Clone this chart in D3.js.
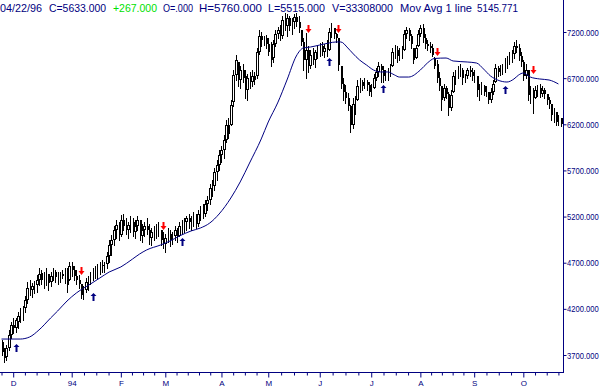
<!DOCTYPE html>
<html><head><meta charset="utf-8">
<script src="https://cdn.jsdelivr.net/npm/d3@7"></script>
<style>html,body{margin:0;padding:0;background:#fff;overflow:hidden}</style>
</head><body><svg id="c" width="600" height="388"></svg>
<script>
// ---- data (daily candles, index 0..239) ----
const openV=[3841,3733,3678,3776,3917,4025,3993,4058,4123,4155,4209,4296,4448,4404,4437,4458,4513,4589,4513,4556,
4578,4491,4556,4599,4545,4556,4578,4556,4599,4513,4664,4621,4556,4513,4469,4361,4404,4491,4534,4567,
4599,4621,4643,4675,4664,4686,4773,4892,4946,5054,5109,5000,5163,5098,5054,5109,5141,5033,5098,5163,
4989,5054,5098,5054,4968,5033,5054,5076,5054,4946,4903,4968,5011,4946,4989,5054,4989,5098,5119,5141,
5185,5141,5163,5206,5119,5228,5271,5228,5336,5380,5510,5531,5683,5759,5867,5921,6030,6192,6192,6441,
6734,6875,6680,6788,6723,6572,6702,6658,6723,6723,6983,7157,7113,7135,7070,6983,6918,7070,7178,7222,
7157,7330,7265,7352,7265,7308,7363,7308,7222,7092,6897,7005,6832,6951,6897,6983,7005,7048,6983,7027,
7005,7200,7243,7178,7135,6832,6637,6550,6485,6398,6192,6420,6463,6615,6658,6615,6658,6626,6550,6593,
6702,6767,6832,6788,6723,6745,6767,6832,6983,7005,6940,6983,7005,7178,7222,7157,7027,6918,7048,7178,
7243,7135,7070,7048,7027,6918,6853,6702,6615,6485,6593,6528,6376,6550,6723,6745,6788,6788,6702,6723,
6788,6767,6723,6723,6572,6593,6615,6550,6550,6463,6550,6658,6810,6767,6810,6832,6875,6897,6940,6962,
7048,7027,6940,6875,6723,6788,6517,6550,6485,6572,6593,6528,6572,6528,6463,6420,6301,6333,6225,6268];
const highV=[3863,3776,3808,3971,4058,4101,4101,4166,4209,4231,4339,4491,4513,4480,4502,4567,4643,4621,4599,4643,
4578,4599,4643,4621,4599,4599,4621,4643,4643,4708,4708,4664,4621,4567,4469,4448,4534,4556,4599,4643,
4664,4686,4708,4729,4708,4816,4946,5000,5098,5163,5141,5217,5228,5185,5141,5206,5185,5163,5206,5163,
5119,5141,5185,5119,5076,5098,5119,5141,5054,5033,5011,5076,5054,5033,5098,5076,5141,5163,5185,5206,
5228,5206,5250,5228,5271,5315,5336,5380,5423,5553,5596,5726,5813,5921,5965,6084,6246,6268,6463,6788,
6951,6875,6832,6853,6788,6745,6767,6788,6767,7027,7222,7200,7157,7167,7135,7092,7113,7222,7254,7276,
7373,7406,7395,7373,7352,7395,7406,7373,7222,7135,7189,7048,7005,7027,7005,7048,7081,7092,7070,7113,
7243,7298,7243,7189,7135,6832,6702,6626,6539,6409,6485,6507,6680,6702,6680,6702,6680,6658,6637,6745,
6810,6875,6853,6832,6788,6810,6853,7027,7059,7048,7027,7048,7222,7254,7243,7178,7027,7059,7222,7276,
7287,7178,7113,7092,7070,6929,6897,6767,6615,6637,6615,6550,6572,6767,6788,6832,6853,6810,6745,6810,
6832,6810,6788,6723,6637,6658,6626,6615,6550,6593,6680,6853,6832,6842,6853,6918,6940,6983,7005,7092,
7113,7070,6983,6897,6853,6788,6615,6593,6615,6626,6637,6615,6593,6528,6496,6420,6376,6333,6301,6268];
const lowV=[3700,3624,3646,3754,3884,3938,3949,3993,4058,4079,4166,4263,4350,4328,4372,4383,4458,4469,4426,4458,
4404,4448,4513,4491,4469,4491,4534,4480,4383,4513,4556,4513,4469,4426,4318,4307,4383,4404,4469,4513,
4534,4534,4578,4599,4599,4643,4708,4784,4892,4968,4946,4989,5054,5011,4968,5033,4989,4968,5054,4946,
4924,4989,5011,4903,4892,4946,4968,4989,4892,4859,4816,4924,4881,4903,4946,4924,4989,5011,5033,5054,
5076,5054,5098,5076,5098,5163,5185,5206,5271,5336,5423,5488,5596,5705,5791,5835,6008,6051,6192,6398,
6680,6615,6593,6658,6485,6463,6593,6615,6637,6702,6962,7048,7059,7027,6951,6832,6875,7048,7135,7113,
7135,7222,7157,7222,7178,7243,7265,7200,7059,6788,6702,6767,6810,6853,6821,6918,6940,6951,6929,6940,
7005,7146,7135,7092,6788,6593,6463,6431,6355,6116,6160,6311,6463,6550,6572,6593,6572,6517,6507,6593,
6680,6723,6658,6658,6680,6680,6723,6832,6918,6875,6897,6918,7005,7135,7113,7027,6864,6918,7048,7157,
7092,7027,7005,6983,6940,6810,6658,6572,6355,6463,6485,6301,6355,6550,6637,6702,6723,6637,6658,6702,
6723,6680,6658,6507,6463,6528,6517,6507,6431,6441,6528,6658,6723,6734,6745,6767,6810,6853,6875,6918,
6983,6897,6832,6680,6702,6463,6431,6323,6485,6507,6496,6507,6485,6420,6376,6246,6225,6192,6192,6181];
const closeV=[3733,3667,3776,3917,4025,3993,4079,4123,4166,4188,4296,4426,4404,4448,4469,4513,4578,4513,4556,4599,
4480,4556,4599,4545,4567,4578,4556,4599,4458,4664,4621,4556,4513,4469,4350,4404,4491,4534,4567,4599,
4621,4643,4675,4664,4686,4773,4892,4946,5054,5109,5000,5163,5098,5054,5109,5141,5033,5098,5163,4989,
5054,5098,5054,4968,5033,5054,5076,5098,4946,4903,4968,5011,4946,4989,5054,4989,5098,5119,5141,5185,
5141,5163,5206,5119,5228,5271,5228,5336,5380,5510,5531,5683,5759,5867,5921,6030,6192,6095,6409,6734,
6897,6680,6788,6702,6572,6702,6658,6723,6680,6983,7157,7113,7135,7070,6983,6897,7070,7178,7222,7157,
7330,7265,7352,7265,7308,7363,7308,7243,7092,6897,7005,6832,6951,6897,6983,7005,7048,6983,7027,7005,
7200,7243,7178,7135,6842,6637,6550,6485,6398,6192,6420,6463,6615,6658,6615,6658,6626,6550,6593,6702,
6767,6832,6788,6723,6745,6767,6810,6983,7005,6940,6983,7005,7178,7222,7157,7070,6897,7027,7178,7243,
7135,7070,7048,7027,6951,6832,6702,6615,6463,6593,6528,6376,6517,6723,6745,6788,6810,6702,6723,6788,
6767,6723,6745,6572,6593,6615,6550,6572,6463,6550,6637,6810,6767,6810,6832,6875,6897,6940,6962,7048,
7027,6940,6875,6723,6788,6517,6550,6485,6572,6593,6528,6572,6528,6463,6420,6301,6333,6225,6268,6203];

// moving average line (bar index, value)
const maIdx=[0,8,12,16,21,24,28,32,38,42,46,51,56,59,62,68,72,76,81,85,89,93,98,102,106,111,114,118,122,126,129,132,136,140,143,145,148,150,153,156,159,162,165,168,170,174,179,182,185,190,193,199,203,206,209,212,216,219,221,223,226,230,234,238];
const maVal=[3873,3873,3895,3971,4101,4177,4285,4372,4469,4534,4599,4654,4740,4794,4838,4892,4935,4989,5044,5076,5130,5228,5401,5575,5780,6041,6225,6431,6680,6940,7027,7037,7059,7081,7092,7092,7027,6972,6897,6842,6788,6767,6767,6734,6712,6712,6788,6864,6913,6918,6886,6875,6864,6799,6723,6680,6658,6691,6734,6756,6712,6691,6680,6637];

// signal arrows (bar index, value at arrow top)
const sellIdx=[34,69,131,144,186,227];
const sellVal=[4654,5141,7276,7276,7027,6832];
const buyIdx=[6,39,77,140,163,215];
const buyVal=[3819,4372,4968,6918,6626,6615];

// axis ticks
const yTicks=[7200,6700,6200,5700,5200,4700,4200,3700];
const monthLabels=["D","94","F","M","A","M","J","J","A","S","O"];
const monthIdx=[5,30,51,70,94,114,136,158,179,202,223];

// header
const headerTexts=["04/22/96","C=5633.000","+267.000","O=.000","H=5760.000","L=5515.000","V=33308000","Mov Avg 1 line","5145.771"];

// ---- drawing ----
const NAVY="#000080";
const FONT="Arial, 'Liberation Sans', sans-serif";
const svg=d3.select("#c");
const n=closeV.length;
const x=d3.scaleLinear().domain([0,n-1]).range([1.5,1.5+(n-1)*2.34]);
const y=d3.scaleLinear().domain([3700,7200]).range([355,32]);

// axis lines
svg.append("line").attr("x1",0).attr("x2",564).attr("y1",372.5).attr("y2",372.5).attr("stroke",NAVY);
svg.append("line").attr("x1",563.5).attr("x2",563.5).attr("y1",0).attr("y2",373).attr("stroke",NAVY);

// right axis (labels horizontally condensed so they fit in the margin)
const gy=svg.append("g").attr("transform","translate(563.5,0)")
  .call(d3.axisRight(y).tickValues(yTicks).tickSize(3).tickFormat(d3.format(".3f")));
gy.select(".domain").remove();
gy.selectAll("line").attr("stroke",NAVY);
gy.selectAll("text").attr("x",0).attr("fill",NAVY).attr("font-family",FONT).attr("font-size",9.5)
  .attr("transform","translate(3.5,0) scale(0.8,1)");

// bottom axis with weekly ticks
const weekTicks=[0];
for(let k=0;k<monthIdx.length;k++){
  const a=monthIdx[k];
  if(k<monthIdx.length-1){
    const b=monthIdx[k+1], w=Math.round((b-a)/5);
    for(let j=0;j<w;j++) weekTicks.push(a+j*(b-a)/w);
  } else {
    for(let t=a;t<=n-1;t+=5) weekTicks.push(t);
  }
}
const gx=svg.append("g").attr("transform","translate(0,372.5)")
  .call(d3.axisBottom(x).tickValues(weekTicks).tickSize(3)
    .tickFormat(d=>{const k=monthIdx.indexOf(d);return k>=0?monthLabels[k]:"";}));
gx.select(".domain").remove();
gx.selectAll("line").attr("stroke",NAVY);
gx.selectAll(".tick").filter(d=>monthIdx.includes(d)).select("line").attr("y2",5);
gx.selectAll("text").attr("fill",NAVY).attr("font-family",FONT).attr("font-size",8).attr("y",8);

// candles: thin wicks, narrow bodies (filled = down, hollow = up)
const bars=d3.range(n).map(i=>({i,o:openV[i],h:highV[i],l:lowV[i],c:closeV[i]}));
const gb=svg.append("g").attr("shape-rendering","crispEdges");
const bg=gb.selectAll("g").data(bars).join("g");
bg.append("line")
  .attr("x1",d=>Math.round(x(d.i))+0.5).attr("x2",d=>Math.round(x(d.i))+0.5)
  .attr("y1",d=>Math.round(y(d.h))).attr("y2",d=>Math.round(y(d.l))+1)
  .attr("stroke","#000");
bg.filter(d=>d.c<d.o).append("rect")
  .attr("x",d=>Math.round(x(d.i)))
  .attr("y",d=>Math.round(y(d.o)))
  .attr("width",2)
  .attr("height",d=>Math.max(1,Math.round(y(d.c))-Math.round(y(d.o))))
  .attr("fill","#000");
bg.filter(d=>d.c>=d.o && (y(d.o)-y(d.c))>=4).append("rect")
  .attr("x",d=>Math.round(x(d.i))-0.5)
  .attr("y",d=>Math.round(y(d.c))+0.5)
  .attr("width",2)
  .attr("height",d=>Math.max(1,Math.round(y(d.o))-Math.round(y(d.c))-1))
  .attr("fill","#fff").attr("stroke","#000");

// moving average
const maPts=maIdx.map((d,k)=>[d,maVal[k]]);
svg.append("path").datum(maPts)
  .attr("d",d3.line().x(d=>x(d[0])).y(d=>y(d[1])).curve(d3.curveMonotoneX))
  .attr("fill","none").attr("stroke",NAVY).attr("stroke-width",1);

// arrows
const sells=sellIdx.map((d,k)=>({i:d,v:sellVal[k]}));
svg.append("g").selectAll("path").data(sells).join("path")
  .attr("d",d=>{const cx=Math.round(x(d.i))+0.5,t=Math.round(y(d.v));
    return `M${cx-1},${t}L${cx+1},${t}L${cx+1},${t+4}L${cx+3},${t+4}L${cx},${t+8}L${cx-3},${t+4}L${cx-1},${t+4}Z`;})
  .attr("fill","#ff0000");
const buys=buyIdx.map((d,k)=>({i:d,v:buyVal[k]}));
svg.append("g").selectAll("path").data(buys).join("path")
  .attr("d",d=>{const cx=Math.round(x(d.i))+0.5,t=Math.round(y(d.v));
    return `M${cx},${t}L${cx+3},${t+3}L${cx+1},${t+3}L${cx+1},${t+8}L${cx-1},${t+8}L${cx-1},${t+3}L${cx-3},${t+3}Z`;})
  .attr("fill",NAVY);

// header texts
const hx=[0,49,113,163,199,268,332,400,477];
const hw=[42,57,44,30,63,57,61,72,41];
svg.append("g").selectAll("text").data(headerTexts).join("text")
  .attr("x",(d,k)=>hx[k]).attr("y",12)
  .attr("textLength",(d,k)=>hw[k]).attr("lengthAdjust","spacingAndGlyphs")
  .attr("font-family",FONT).attr("font-size",11.5)
  .attr("fill",(d,k)=>k===2?"#00e000":NAVY)
  .text(d=>d);
</script></body></html>
